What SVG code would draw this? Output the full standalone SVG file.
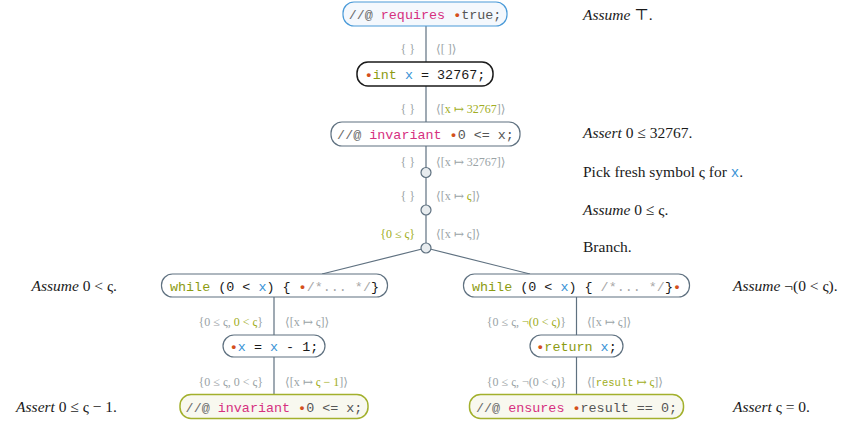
<svg xmlns="http://www.w3.org/2000/svg" width="848" height="424" viewBox="0 0 848 424">
<style>
.bg{fill:#ffffff}
.box{stroke-width:1.2}
.blue{fill:#f4f8fd;stroke:#4a9ad8}
.black{fill:#ffffff;stroke:#1a1a1a;stroke-width:1.5}
.gray{fill:#ffffff;stroke:#5f7180}
.green{fill:#f8f8ef;stroke:#a2b02c;stroke-width:1.5}
.code{font-family:"Liberation Mono","DejaVu Sans Mono",monospace;font-size:13.4px;text-anchor:middle}
.g{fill:#6b6b6b}
.kw{fill:#d6307f}
.ty{fill:#8c9b12}
.v{fill:#3a93d6}
.dot{fill:#d4501c;font-weight:bold}
.cm{fill:#a8a8a8}
.dk{fill:#1a1a1a}
.md{fill:#555555}
.lbl{font-family:"Liberation Serif","DejaVu Serif",serif;font-size:12px;fill:#9aa3a6}
.lg{fill:#a0ad22}
.r{text-anchor:end}
.ann{font-family:"Liberation Serif","DejaVu Serif",serif;font-size:15.5px;fill:#1a1a1a}
.it{font-style:italic}
.mono{font-family:"Liberation Mono","DejaVu Sans Mono",monospace}
.edge{stroke:#5f7180;stroke-width:1.2;fill:none}
.pt{fill:#e8ecef;stroke:#5f7180;stroke-width:1.2}
</style>
<rect class="bg" x="0" y="0" width="848" height="424"/>
<g id="connectors">
<line class="edge" x1="426" y1="26" x2="426" y2="62"/>
<line class="edge" x1="426" y1="86" x2="426" y2="122"/>
<line class="edge" x1="426" y1="146" x2="426" y2="243"/>
<line class="edge" x1="426" y1="248" x2="322" y2="274"/>
<line class="edge" x1="426" y1="248" x2="530" y2="274"/>
<line class="edge" x1="274" y1="297" x2="274" y2="335"/>
<line class="edge" x1="274" y1="357" x2="274" y2="394"/>
<line class="edge" x1="576.5" y1="297" x2="576.5" y2="335"/>
<line class="edge" x1="576.5" y1="357" x2="576.5" y2="394"/>
</g>
<g id="n1">
<rect class="box blue" x="343" y="2" width="164" height="24" rx="11"/>
<text class="code" x="425" y="19"><tspan class="g">//@ </tspan><tspan class="kw">requires </tspan><tspan class="dot">•</tspan><tspan class="md">true;</tspan></text>
</g>
<g id="n2">
<rect class="box black" x="357" y="62" width="136" height="24" rx="11"/>
<text class="code" x="425" y="79"><tspan class="dot">•</tspan><tspan class="ty">int </tspan><tspan class="v">x</tspan><tspan class="dk"> = 32767;</tspan></text>
</g>
<g id="n3">
<rect class="box gray" x="331" y="122" width="189" height="24" rx="11"/>
<text class="code" x="425.5" y="139"><tspan class="g">//@ </tspan><tspan class="kw">invariant </tspan><tspan class="dot">•</tspan><tspan class="md">0 &lt;= x;</tspan></text>
</g>
<g id="p1"><circle class="pt" cx="426" cy="172.5" r="5"/></g>
<g id="p2"><circle class="pt" cx="426" cy="210" r="5"/></g>
<g id="p3"><circle class="pt" cx="426" cy="248" r="5"/></g>
<g id="n4">
<rect class="box gray" x="161.5" y="274" width="226" height="23" rx="11"/>
<text class="code" x="274.5" y="291"><tspan class="ty">while </tspan><tspan class="dk">(0 &lt; </tspan><tspan class="v">x</tspan><tspan class="dk">) { </tspan><tspan class="dot">•</tspan><tspan class="cm">/*... */</tspan><tspan class="dk">}</tspan></text>
</g>
<g id="n5">
<rect class="box gray" x="463.5" y="274" width="226" height="23" rx="11"/>
<text class="code" x="576.5" y="291"><tspan class="ty">while </tspan><tspan class="dk">(0 &lt; </tspan><tspan class="v">x</tspan><tspan class="dk">) { </tspan><tspan class="cm">/*... */</tspan><tspan class="dk">}</tspan><tspan class="dot">•</tspan></text>
</g>
<g id="n6">
<rect class="box gray" x="223" y="335" width="102" height="22" rx="11"/>
<text class="code" x="274" y="351"><tspan class="dot">•</tspan><tspan class="v">x</tspan><tspan class="dk"> = </tspan><tspan class="v">x</tspan><tspan class="dk"> - 1;</tspan></text>
</g>
<g id="n7">
<rect class="box gray" x="530" y="335" width="93" height="22" rx="11"/>
<text class="code" x="576.5" y="351"><tspan class="dot">•</tspan><tspan class="ty">return </tspan><tspan class="v">x</tspan><tspan class="dk">;</tspan></text>
</g>
<g id="n8">
<rect class="box green" x="180" y="394.5" width="188" height="24" rx="11"/>
<text class="code" x="274" y="411.5"><tspan class="g">//@ </tspan><tspan class="kw">invariant </tspan><tspan class="dot">•</tspan><tspan class="md">0 &lt;= x;</tspan></text>
</g>
<g id="n9">
<rect class="box green" x="469.5" y="394.5" width="214" height="24" rx="11"/>
<text class="code" x="576.5" y="411.5"><tspan class="g">//@ </tspan><tspan class="kw">ensures </tspan><tspan class="dot">•</tspan><tspan class="md">result == 0;</tspan></text>
</g>
<g id="labels">
<text class="lbl r" x="415" y="53">{ }</text>
<text class="lbl" x="436" y="53">⟨[ ]⟩</text>
<text class="lbl r" x="415" y="113">{ }</text>
<text class="lbl" x="436" y="113">⟨[<tspan class="lg">x ↦ 32767</tspan>]⟩</text>
<text class="lbl r" x="415" y="166">{ }</text>
<text class="lbl" x="436" y="166">⟨[x ↦ 32767]⟩</text>
<text class="lbl r" x="415" y="200">{ }</text>
<text class="lbl" x="436" y="200">⟨[x ↦ <tspan class="lg">ς</tspan>]⟩</text>
<text class="lbl r lg" x="415" y="238">{0 ≤ ς}</text>
<text class="lbl" x="436" y="238">⟨[x ↦ ς]⟩</text>
<text class="lbl r" x="263" y="326">{0 ≤ ς, <tspan class="lg">0 &lt; ς</tspan>}</text>
<text class="lbl" x="285" y="326">⟨[x ↦ ς]⟩</text>
<text class="lbl r" x="263" y="386">{0 ≤ ς, 0 &lt; ς}</text>
<text class="lbl" x="285" y="386">⟨[x ↦ <tspan class="lg">ς − 1</tspan>]⟩</text>
<text class="lbl r" x="566" y="326">{0 ≤ ς, <tspan class="lg">¬(0 &lt; ς)</tspan>}</text>
<text class="lbl" x="587" y="326">⟨[x ↦ ς]⟩</text>
<text class="lbl r" x="566" y="386">{0 ≤ ς, ¬(0 &lt; ς)}</text>
<text class="lbl" x="587" y="386">⟨[<tspan class="lg"><tspan class="mono" font-size="10.5">result</tspan> ↦ ς</tspan>]⟩</text>
</g>
<g id="annotations">
<text class="ann" x="583" y="20"><tspan class="it">Assume</tspan> ⊤.</text>
<text class="ann" x="583" y="138"><tspan class="it">Assert</tspan> 0 ≤ 32767.</text>
<text class="ann" x="583" y="177">Pick fresh symbol ς for <tspan class="mono v" font-size="14">x</tspan>.</text>
<text class="ann" x="583" y="215"><tspan class="it">Assume</tspan> 0 ≤ ς.</text>
<text class="ann" x="583" y="252">Branch.</text>
<text class="ann r" x="117" y="291"><tspan class="it">Assume</tspan> 0 &lt; ς.</text>
<text class="ann" x="733" y="291"><tspan class="it">Assume</tspan> ¬(0 &lt; ς).</text>
<text class="ann r" x="117" y="412"><tspan class="it">Assert</tspan> 0 ≤ ς − 1.</text>
<text class="ann" x="733" y="412"><tspan class="it">Assert</tspan> ς = 0.</text>
</g>
</svg>
